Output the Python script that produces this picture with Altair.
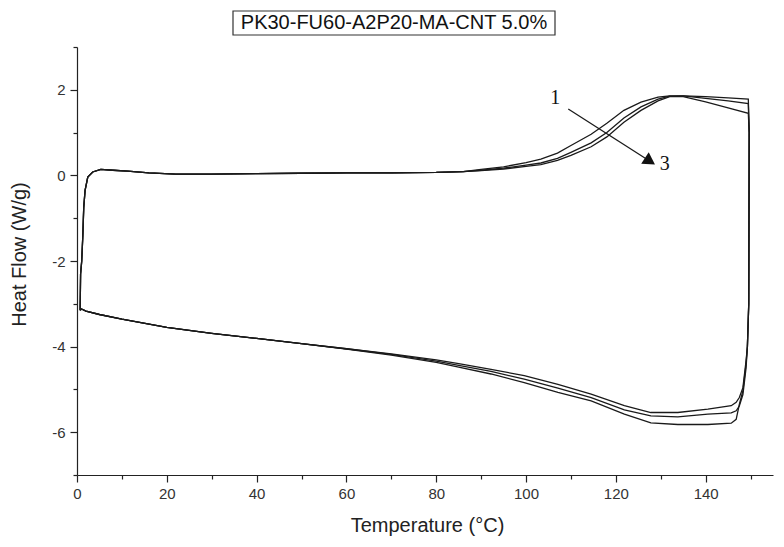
import altair as alt
import pandas as pd

TITLE = "PK30-FU60-A2P20-MA-CNT 5.0%"
X_TITLE = "Temperature (°C)"
Y_TITLE = "Heat Flow (W/g)"

# shared start of the heating branch (all three cycles overlap here)
heat_start_T = [0.7, 0.8, 1.05, 1.3, 1.5, 1.8, 2.4, 3.5, 5.3, 8, 11.3, 16, 22, 30, 40, 50, 60, 70, 80, 86]
heat_start_Y = [-3.15, -2.3, -2.0, -1.4, -0.75, -0.35, -0.04, 0.08, 0.14, 0.12, 0.10, 0.06, 0.03, 0.03, 0.04, 0.05, 0.06, 0.06, 0.07, 0.09]

# heating branch, 90 -> 150 C, cycles 1..3
heat_T = [90, 95, 100, 103.3, 107, 110, 114.5, 118, 121.8, 125.6, 129.4, 132, 135, 140, 145, 149.5]
heat_Y1 = [0.14, 0.20, 0.30, 0.38, 0.52, 0.70, 0.96, 1.22, 1.52, 1.71, 1.83, 1.86, 1.86, 1.84, 1.81, 1.78]
heat_Y2 = [0.12, 0.17, 0.24, 0.29, 0.40, 0.54, 0.76, 1.00, 1.34, 1.60, 1.78, 1.85, 1.86, 1.80, 1.74, 1.68]
heat_Y3 = [0.11, 0.15, 0.21, 0.25, 0.35, 0.47, 0.67, 0.90, 1.24, 1.52, 1.74, 1.84, 1.84, 1.72, 1.58, 1.45]

# cooling branch, 150 -> 0 C
cool_T = [149.7, 149.6, 149.3, 149.0, 148.3, 147.5, 146.8, 145.7, 140.5, 133.8, 127.8, 121.9, 114.5, 107.1,
          99.6, 92.2, 85, 80, 70, 60, 50, 40, 30, 20, 10, 5, 2, 1, 0.7]
cool_Y1 = [1.0, -3.0, -4.0, -4.33, -4.96, -5.19, -5.30, -5.38, -5.46, -5.54, -5.54, -5.38, -5.11, -4.88,
           -4.68, -4.53, -4.40, -4.31, -4.17, -4.05, -3.93, -3.81, -3.69, -3.55, -3.36, -3.25, -3.17, -3.12, -3.15]
cool_Y2 = [1.0, -3.0, -4.0, -4.50, -5.12, -5.39, -5.50, -5.55, -5.58, -5.64, -5.62, -5.48, -5.19, -4.97,
           -4.76, -4.58, -4.44, -4.34, -4.18, -4.05, -3.93, -3.81, -3.69, -3.55, -3.36, -3.25, -3.17, -3.12, -3.15]
cool_Y3 = [1.0, -3.0, -4.0, -4.40, -5.03, -5.35, -5.70, -5.79, -5.82, -5.82, -5.78, -5.58, -5.27, -5.07,
           -4.84, -4.64, -4.48, -4.37, -4.20, -4.06, -3.93, -3.81, -3.69, -3.55, -3.36, -3.25, -3.17, -3.12, -3.15]

# annotation "1 -> 3"
label_text = ["1", "3"]
label_T = [106.5, 130.9]
label_Y = [1.81, 0.27]
arrow_T = [109.4, 127.6]
arrow_Y = [1.55, 0.33]

rows = []
for cyc, hy, cy in [(1, heat_Y1, cool_Y1), (2, heat_Y2, cool_Y2), (3, heat_Y3, cool_Y3)]:
    T = heat_start_T + heat_T + cool_T
    Y = heat_start_Y + hy + cy
    for i, (t, y) in enumerate(zip(T, Y)):
        rows.append({"cycle": cyc, "order": i, "T": t, "Y": y})
df = pd.DataFrame(rows)

x_scale = alt.Scale(domain=[0, 155], nice=False, zero=False)
y_scale = alt.Scale(domain=[-7, 3], nice=False, zero=False)

AX = dict(grid=False, domainColor="#222", domainWidth=1.2, tickColor="#222", tickWidth=1.2,
          labelColor="#333", labelFont="Liberation Sans", labelFontSize=15,
          titleFont="Liberation Sans", titleFontSize=20, titleFontWeight="normal", titleColor="#222")

x_axis = alt.Axis(values=list(range(0, 151, 10)),
                  labelExpr="datum.value % 20 === 0 ? datum.label : ''",
                  tickSize={"condition": {"test": "datum.value % 20 === 0", "value": 7}, "value": 4},
                  labelPadding=4, labelFlush=False, labelOverlap=False,
                  title=X_TITLE, titleX=350, titleY=50, titleAlign="center", titleBaseline="middle",
                  **AX)
y_axis = alt.Axis(values=list(range(-7, 4)),
                  labelExpr="datum.value % 2 === 0 ? '' + datum.value : ''",
                  tickSize={"condition": {"test": "datum.value % 2 === 0", "value": 7}, "value": 4},
                  labelPadding=5, labelFlush=False, labelOverlap=False,
                  title=Y_TITLE, titleAngle=270, titleX=-58, titleY=207, titleAlign="center",
                  titleBaseline="middle", **AX)

X = alt.X("T:Q", scale=x_scale, axis=x_axis)
Y = alt.Y("Y:Q", scale=y_scale, axis=y_axis)

lines = alt.Chart(df).mark_line(color="#1a1a1a", strokeWidth=1.3).encode(
    x=X, y=Y, detail="cycle:N", order="order:Q",
)

arrow_df = pd.DataFrame({"T": arrow_T, "Y": arrow_Y})
arrow = alt.Chart(arrow_df).mark_line(color="#1a1a1a", strokeWidth=1.3).encode(x=X, y=Y)
head = alt.Chart(arrow_df.tail(1)).mark_point(shape="triangle-right", filled=True, color="#111",
                                               size=190, angle=33, opacity=1).encode(x=X, y=Y)
labels = alt.Chart(pd.DataFrame({"T": label_T, "Y": label_Y, "txt": label_text})).mark_text(
    font="Liberation Serif", fontSize=20, color="#111", align="center", baseline="middle").encode(
    x=X, y=Y, text="txt:N",
)

title_text = alt.Chart(pd.DataFrame({"t": [TITLE]})).mark_text(
    font="Liberation Sans", fontSize=20, color="#111", align="center", baseline="middle").encode(
    x=alt.value(317), y=alt.value(-24), text="t:N")
title_box = alt.Chart(pd.DataFrame({"t": [TITLE]})).mark_rect(
    fillOpacity=0, stroke="#333", strokeWidth=1.2).encode(
    x=alt.value(156), x2=alt.value(478), y=alt.value(-36), y2=alt.value(-12))

chart = alt.layer(lines, arrow, head, labels, title_box, title_text).properties(
    width=696, height=428,
    autosize=alt.AutoSizeParams(type="none"),
    padding={"left": 69, "top": 39, "right": 3, "bottom": 64},
    background="white",
).configure_view(stroke=None)

chart.save("out.html", embed_options={"renderer": "svg", "actions": False})
